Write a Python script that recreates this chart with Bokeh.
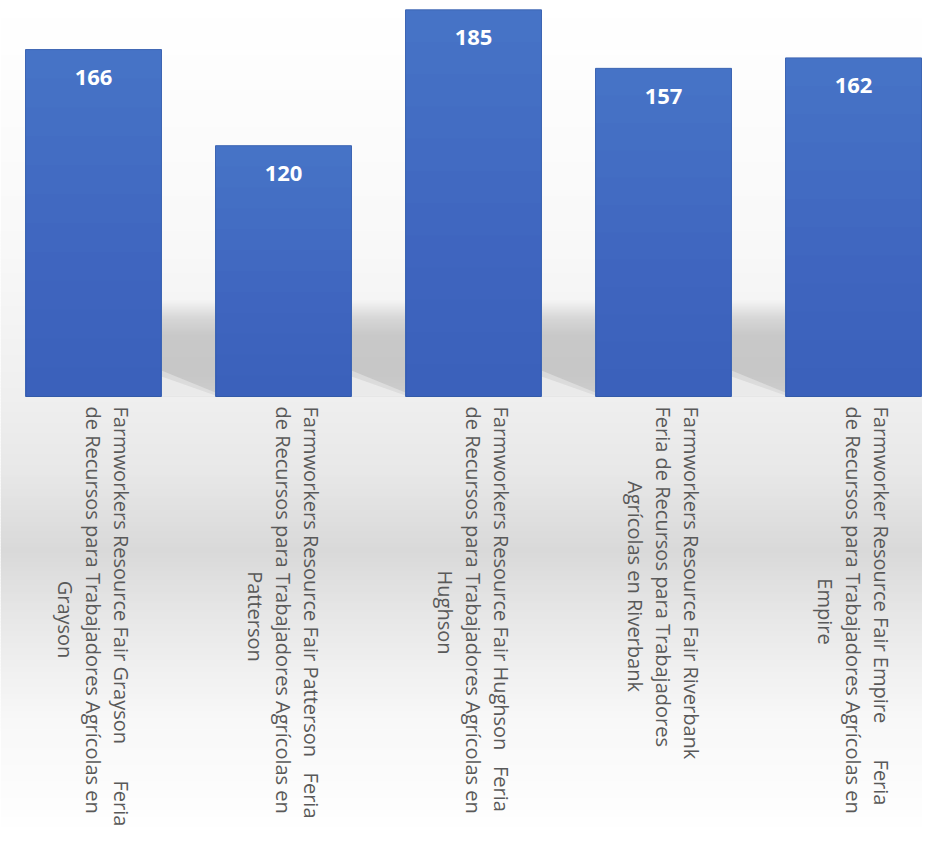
import math
from bokeh.plotting import figure
from bokeh.models import Range1d, ColumnDataSource
from bokeh.core.properties import value
from bokeh.embed import file_html
from bokeh.resources import INLINE

# ---------------- data ----------------
categories = ["Grayson", "Patterson", "Hughson", "Riverbank", "Empire"]
attendance = [166, 120, 185, 157, 162]
label_line1 = [
    "Farmworkers Resource Fair Grayson\u00a0\u00a0\u00a0\u00a0\u00a0\u00a0\u00a0Feria",
    "Farmworkers Resource Fair Patterson\u00a0\u00a0\u00a0Feria",
    "Farmworkers Resource Fair Hughson\u00a0\u00a0\u00a0Feria",
    "Farmworkers Resource Fair Riverbank",
    "Farmworker Resource Fair Empire\u00a0\u00a0\u00a0\u00a0\u00a0\u00a0\u00a0Feria",
]
label_line2 = [
    "de Recursos para Trabajadores Agrícolas en",
    "de Recursos para Trabajadores Agrícolas en",
    "de Recursos para Trabajadores Agrícolas en",
    "Feria de Recursos para Trabajadores",
    "de Recursos para Trabajadores Agrícolas en",
]
label_line3 = ["Grayson", "Patterson", "Hughson", "Agrícolas en Riverbank", "Empire"]

# ---------------- layout (styles / positions) ----------------
W, H = 922, 827
K = 2.09                # px per unit
BASE = 396              # frame y of the baseline
STEP = 190.0            # px per category
FIRST_C = 93.0          # frame x of first bar centre
x0 = -FIRST_C / STEP
x1 = x0 + W / STEP
y1 = BASE / K
y0 = -(H - BASE) / K
BAR_W = 136 / STEP


def ypx(py):
    return (BASE - py) / K


def hexc(c):
    return "#%02x%02x%02x" % tuple(int(round(v)) for v in c)


def interp(stops, py):
    for (pa, ca), (pb, cb) in zip(stops[:-1], stops[1:]):
        if pa <= py <= pb:
            t = (py - pa) / (pb - pa) if pb > pa else 0
            return tuple(ca[i] + (cb[i] - ca[i]) * t for i in range(3))
    return stops[-1][1] if py > stops[-1][0] else stops[0][1]


p = figure(width=W, height=H, x_range=Range1d(x0, x1), y_range=Range1d(y0, y1),
           output_backend="svg", toolbar_location=None, min_border=0,
           x_axis_type=None, y_axis_type=None)
p.grid.visible = False
p.outline_line_color = None
p.background_fill_color = "#ffffff"
p.border_fill_color = "#ffffff"

# background gradient (decoration)
bg_stops = [(0, (255, 255, 255)), (250, (248, 248, 248)), (396, (239, 239, 239)),
            (470, (232, 232, 232)), (550, (217, 217, 217)), (620, (232, 232, 232)),
            (720, (248, 248, 248)), (843, (255, 255, 255))]
bl, br, bt, bb, bc = [], [], [], [], []
for py in range(0, H, 3):
    bl.append(x0); br.append(x1)
    bt.append(ypx(py)); bb.append(ypx(py + 4))
    bc.append(hexc(interp(bg_stops, py + 1.5)))
p.quad(left=bl, right=br, top=bt, bottom=bb, fill_color=bc, line_color=None)

# floor shadows between bars (decoration)
sh_stops = [(300, (244, 244, 244)), (318, (214, 214, 214)), (335, (200, 200, 200)),
            (375, (199, 199, 199)), (396, (206, 206, 206))]
n = len(categories)
sl, sr, st, sb, sc = [], [], [], [], []
for g in range(1, n):
    left = (g - 1) + BAR_W / 2
    right = g - BAR_W / 2
    for py in range(300, 396, 2):
        sl.append(left); sr.append(right)
        st.append(ypx(py)); sb.append(ypx(min(py + 3, 396)))
        sc.append(hexc(interp(sh_stops, py + 1)))
p.quad(left=sl, right=sr, top=st, bottom=sb, fill_color=sc, line_color=None)
for (ya, yb, alpha) in ((370, 392, 0.5), (376, 395, 0.8)):
    wx, wy = [], []
    for g in range(1, n):
        left = (g - 1) + BAR_W / 2
        right = g - BAR_W / 2
        wx.append([left, left, right, right])
        wy.append([ypx(ya), ypx(396), ypx(396), ypx(yb)])
    p.patches(xs=wx, ys=wy, fill_color="#eeeeee", fill_alpha=alpha, line_color=None)

# bars
idx = list(range(n))
src = ColumnDataSource(dict(x=idx, top=attendance, cat=categories,
                            lab=[str(v) for v in attendance]))
p.vbar(x="x", top="top", bottom=0, width=BAR_W, source=src,
       fill_color="#4673c6", line_color="#3d65b3", line_width=1)
for k in range(1, 12):
    frac = k / 12.0
    p.vbar(x=idx, top=[v * frac for v in attendance], bottom=0, width=BAR_W - 0.006,
           fill_color="#1f3f80", fill_alpha=0.02, line_color=None)

# value labels
p.text(x="x", y="top", text="lab", source=src, text_align="center",
       text_baseline="middle", y_offset=28, text_color="#ffffff",
       text_font=value("Open Sans"), text_font_style="bold", text_font_size="22px")

# category labels (rotated, top-to-bottom)
LINE_GAP = 28 / STEP
LABEL_TOP = 406
LINE3_CENTRE = [619, 616, 612, 586, 611]
common = dict(angle=-math.pi / 2, text_baseline="middle", text_color="#595959",
              text_font=value("Open Sans"), text_font_size="20px")
p.text(x=[i + LINE_GAP for i in idx], y=[ypx(LABEL_TOP)] * n, text=label_line1,
       text_align="left", **common)
p.text(x=[i for i in idx], y=[ypx(LABEL_TOP)] * n, text=label_line2,
       text_align="left", **common)
p.text(x=[i - LINE_GAP for i in idx], y=[ypx(c) for c in LINE3_CENTRE], text=label_line3,
       text_align="center", **common)

open("out.html", "w").write(file_html(p, INLINE))
